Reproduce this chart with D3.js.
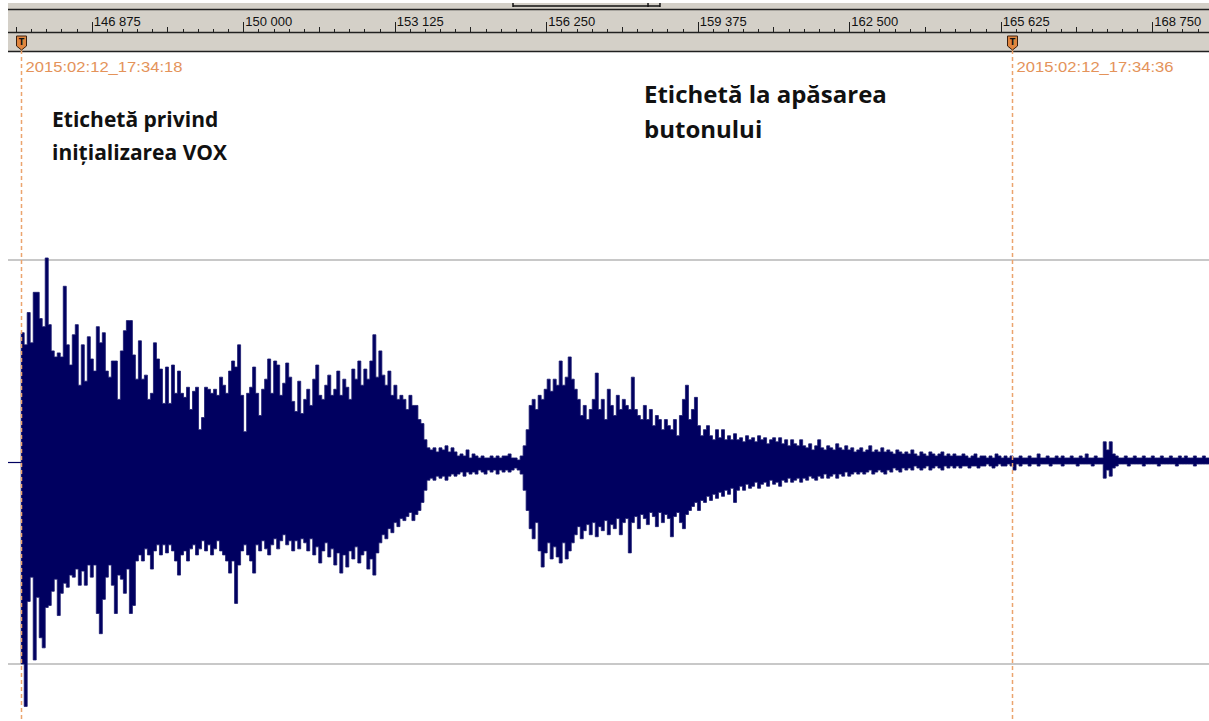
<!DOCTYPE html>
<html><head><meta charset="utf-8">
<script src="https://cdn.jsdelivr.net/npm/d3@7"></script>
<style>html,body{margin:0;padding:0;background:#fff;overflow:hidden}</style>
</head><body><svg id="c" width="1209" height="721"></svg>
<script>
// ---- data ----
const rulerTicks = [146875, 150000, 153125, 156250, 159375, 162500, 165625, 168750];
const rulerLabels = ["146 875", "150 000", "153 125", "156 250", "159 375", "162 500", "165 625", "168 750"];
const markerPositions = [145417, 165858];
const markerLabels = ["2015:02:12_17:34:18", "2015:02:12_17:34:36"];
const selectionRange = [155565, 158597, 158350];
const noteLeft = ["Etichetă privind", "inițializarea VOX"];
const noteRight = ["Etichetă la apăsarea", "butonului"];
const binStart = 145420;   // sample position of first envelope bin
const binStep = 62;        // samples per bin
// envelope maxima per bin (percent of reference level)
const peakMax = [
64,58,74,59,84,84,71,67,101,68,55,52,54,52,87,58,48,63,68,38,
58,40,62,51,45,67,59,64,45,42,50,50,31,55,65,70,70,53,41,60,
41,43,31,34,59,51,46,29,47,29,48,34,45,34,32,37,26,35,37,16,
22,37,36,34,36,33,42,38,34,45,50,47,58,33,15,34,37,47,34,23,
36,41,51,34,50,48,33,39,49,42,30,25,40,24,31,36,28,41,48,33,
31,38,43,33,36,45,33,41,37,31,46,41,50,38,46,41,50,63,42,55,
43,38,45,33,38,31,33,31,26,33,28,28,21,19,11,7,6,7,5,7,
6,8,5,7,5,3,4,3,6,2,4,3,2,3,2,2,3,2,3,2,
3,3,4,2,2,1,3,8,16,28,31,26,33,31,36,41,35,41,38,50,
38,42,52,41,36,31,23,28,21,26,31,44,26,31,21,36,28,23,33,26,
31,28,26,42,26,23,21,28,21,26,18,23,21,16,21,18,16,21,13,23,
31,38,21,26,32,18,13,16,18,13,11,16,12,16,11,13,11,14,11,12,
10,13,11,12,10,13,11,12,9,11,12,10,12,9,11,8,11,9,8,11,
8,7,9,6,8,11,7,6,8,7,6,9,7,6,8,6,7,5,6,7,
5,6,8,5,6,5,7,5,6,5,4,6,5,4,5,4,6,4,3,5,
4,3,5,4,3,4,5,3,4,3,4,3,3,4,3,2,3,4,2,3,
3,2,3,2,4,3,2,3,2,3,2,2,3,2,2,3,2,2,4,2,
2,3,2,2,3,2,3,2,2,3,2,2,3,2,4,2,2,3,2,2,
10,6,10,4,3,2,2,3,2,2,3,2,2,3,2,2,3,2,2,3,
2,2,3,2,2,3,2,3,2,2,3,2,2,3,2,2
];
// envelope minima per bin
const peakMin = [
-100,-121,-69,-57,-98,-67,-87,-92,-72,-71,-64,-58,-76,-65,-60,-62,-56,-57,-53,-61,
-54,-61,-51,-57,-51,-75,-85,-68,-57,-51,-61,-75,-56,-58,-65,-53,-75,-71,-49,-46,
-49,-43,-46,-53,-44,-41,-46,-41,-45,-41,-44,-49,-56,-46,-44,-49,-43,-41,-46,-43,
-39,-44,-41,-46,-43,-39,-44,-46,-49,-55,-49,-70,-51,-44,-41,-46,-49,-55,-41,-44,
-39,-43,-46,-41,-38,-43,-39,-36,-41,-39,-44,-39,-43,-38,-40,-44,-38,-46,-42,-50,
-44,-40,-47,-43,-51,-45,-55,-46,-52,-44,-48,-42,-50,-46,-44,-53,-48,-56,-45,-40,
-36,-38,-33,-35,-30,-32,-28,-29,-27,-25,-29,-26,-24,-20,-14,-9,-8,-9,-7,-8,
-7,-9,-7,-6,-7,-6,-5,-7,-5,-6,-5,-6,-4,-5,-6,-4,-5,-4,-6,-4,
-5,-4,-5,-4,-3,-4,-6,-14,-24,-33,-38,-30,-44,-52,-45,-40,-48,-42,-47,-50,
-40,-48,-44,-40,-36,-32,-38,-34,-31,-36,-30,-37,-32,-34,-29,-36,-31,-33,-28,-36,
-30,-28,-45,-30,-27,-33,-26,-28,-31,-25,-27,-32,-25,-30,-26,-28,-37,-27,-25,-30,
-33,-26,-24,-22,-20,-24,-19,-20,-17,-19,-16,-18,-15,-17,-14,-16,-13,-20,-14,-12,
-14,-11,-13,-12,-10,-13,-11,-10,-12,-9,-11,-10,-12,-9,-10,-8,-10,-9,-8,-10,
-8,-9,-7,-8,-9,-7,-8,-6,-8,-7,-6,-8,-6,-7,-5,-7,-6,-5,-6,-5,
-6,-5,-4,-6,-5,-4,-5,-6,-4,-5,-3,-4,-5,-3,-4,-3,-4,-2,-3,-4,
-3,-2,-4,-3,-2,-3,-4,-2,-3,-2,-3,-2,-3,-2,-2,-3,-2,-2,-3,-2,
-2,-1,-2,-3,-2,-1,-2,-2,-1,-2,-4,-1,-2,-1,-1,-2,-1,-1,-2,-1,
-1,-1,-2,-1,-1,-1,-2,-1,-1,-1,-1,-2,-1,-1,-1,-1,-2,-1,-1,-1,
-8,-4,-7,-3,-2,-1,-1,-1,-2,-1,-1,-1,-1,-2,-1,-1,-1,-1,-2,-1,
-1,-1,-1,-1,-2,-1,-1,-1,-1,-1,-2,-1,-1,-1,-1,-1
];
const gridLevels = [100, -100];

// ---- drawing ----
const W = 1209, H = 721;
const svg = d3.select("#c");
const x = d3.scaleLinear().domain([145148, 169922]).range([8, 1209]);
const y = d3.scaleLinear().domain([-100, 100]).range([664, 260]);

// ruler
const ruler = svg.append("g");
ruler.append("rect").attr("x", 8).attr("y", 3).attr("width", W - 8).attr("height", 49).attr("fill", "#d4d0c8");
ruler.append("line").attr("x1", 8).attr("x2", W).attr("y1", 9.5).attr("y2", 9.5).attr("stroke", "#202020").attr("stroke-width", 1.5);
ruler.append("line").attr("x1", 8).attr("x2", W).attr("y1", 32.5).attr("y2", 32.5).attr("stroke", "#202020").attr("stroke-width", 1.5);
ruler.append("line").attr("x1", 8).attr("x2", W).attr("y1", 51.5).attr("y2", 51.5).attr("stroke", "#202020").attr("stroke-width", 1.5);

// selection bracket remnant at top
const br = svg.append("g").attr("stroke", "#111").attr("stroke-width", 1.5);
br.append("line").attr("x1", x(selectionRange[0])).attr("x2", x(selectionRange[1])).attr("y1", 6).attr("y2", 6);
selectionRange.forEach(v => br.append("line").attr("x1", x(v)).attr("x2", x(v)).attr("y1", 3).attr("y2", 7));

const minorStep = 312.5;
const minor = d3.range(145312.5, 169922, minorStep);
ruler.selectAll("line.minor").data(minor).join("line")
  .attr("x1", d => Math.round(x(d)) + 0.5).attr("x2", d => Math.round(x(d)) + 0.5)
  .attr("y1", d => (Math.abs(((d - 146875) % 3125 + 3125) % 3125 - 1562.5) < 1 ? 27 : 29)).attr("y2", 32)
  .attr("stroke", "#202020").attr("stroke-width", 1);
ruler.selectAll("line.major").data(rulerTicks).join("line")
  .attr("x1", d => Math.round(x(d)) + 0.5).attr("x2", d => Math.round(x(d)) + 0.5)
  .attr("y1", 22).attr("y2", 32).attr("stroke", "#202020").attr("stroke-width", 1);
ruler.selectAll("text").data(rulerTicks).join("text")
  .attr("x", d => x(d) + 2).attr("y", 26)
  .attr("font-family", "Liberation Sans, Arial, sans-serif").attr("font-size", 13)
  .attr("fill", "#111").text((d, i) => rulerLabels[i]);

// grid lines
svg.selectAll("line.grid").data(gridLevels).join("line")
  .attr("x1", 8).attr("x2", W).attr("y1", d => y(d)).attr("y2", d => y(d))
  .attr("stroke", "#c8c8c8").attr("stroke-width", 2);

// flat baseline before first sample
svg.append("line").attr("x1", 8).attr("x2", x(binStart)).attr("y1", y(0) + 0.5).attr("y2", y(0) + 0.5)
  .attr("stroke", "#000060").attr("stroke-width", 1.2);

// waveform envelope
const bins = peakMax.map((v, i) => ({ pos: binStart + i * binStep, hi: v, lo: peakMin[i] }));
bins.push({ pos: binStart + bins.length * binStep, hi: peakMax[peakMax.length - 1], lo: peakMin[peakMin.length - 1] });
const area = d3.area().curve(d3.curveStepAfter)
  .x(d => x(d.pos)).y0(d => y(d.lo)).y1(d => y(d.hi));
svg.append("path").datum(bins).attr("d", area)
  .attr("fill", "#000060").attr("stroke", "#1a1a70").attr("stroke-width", 0.8);

// markers
const mk = svg.append("g");
markerPositions.forEach((p, i) => {
  const cx = Math.round(x(p)) + 0.5;
  mk.append("line").attr("x1", cx).attr("x2", cx).attr("y1", 50).attr("y2", H)
    .attr("stroke", "#eba46e").attr("stroke-width", 1.5).attr("stroke-dasharray", "4,3");
  mk.append("path").attr("d", `M${cx-5},36 H${cx+5} V46 L${cx},50 L${cx-5},46 Z`)
    .attr("fill", "#e0853e").attr("stroke", "#3a2010").attr("stroke-width", 1);
  mk.append("text").attr("x", cx).attr("y", 45).attr("text-anchor", "middle")
    .attr("font-family", "DejaVu Sans, sans-serif").attr("font-weight", "bold").attr("font-size", 8)
    .attr("fill", "#111").text("T");
  mk.append("text").attr("x", cx + 4).attr("y", 72)
    .attr("font-family", "Liberation Sans, Arial, sans-serif").attr("font-size", 14)
    .attr("textLength", 157).attr("lengthAdjust", "spacingAndGlyphs")
    .attr("fill", "#e4935a").text(markerLabels[i]);
});

// annotations
const notes = svg.append("g").attr("font-family", "Open Sans, Noto Sans, sans-serif").attr("font-weight", "bold").attr("fill", "#111");
noteLeft.forEach((t, i) => notes.append("text").attr("x", 52).attr("y", 126.5 + i * 33.5).attr("font-size", 21).text(t));
noteRight.forEach((t, i) => notes.append("text").attr("x", 644).attr("y", 103 + i * 35).attr("font-size", 24).text(t));
</script>
</body></html>
